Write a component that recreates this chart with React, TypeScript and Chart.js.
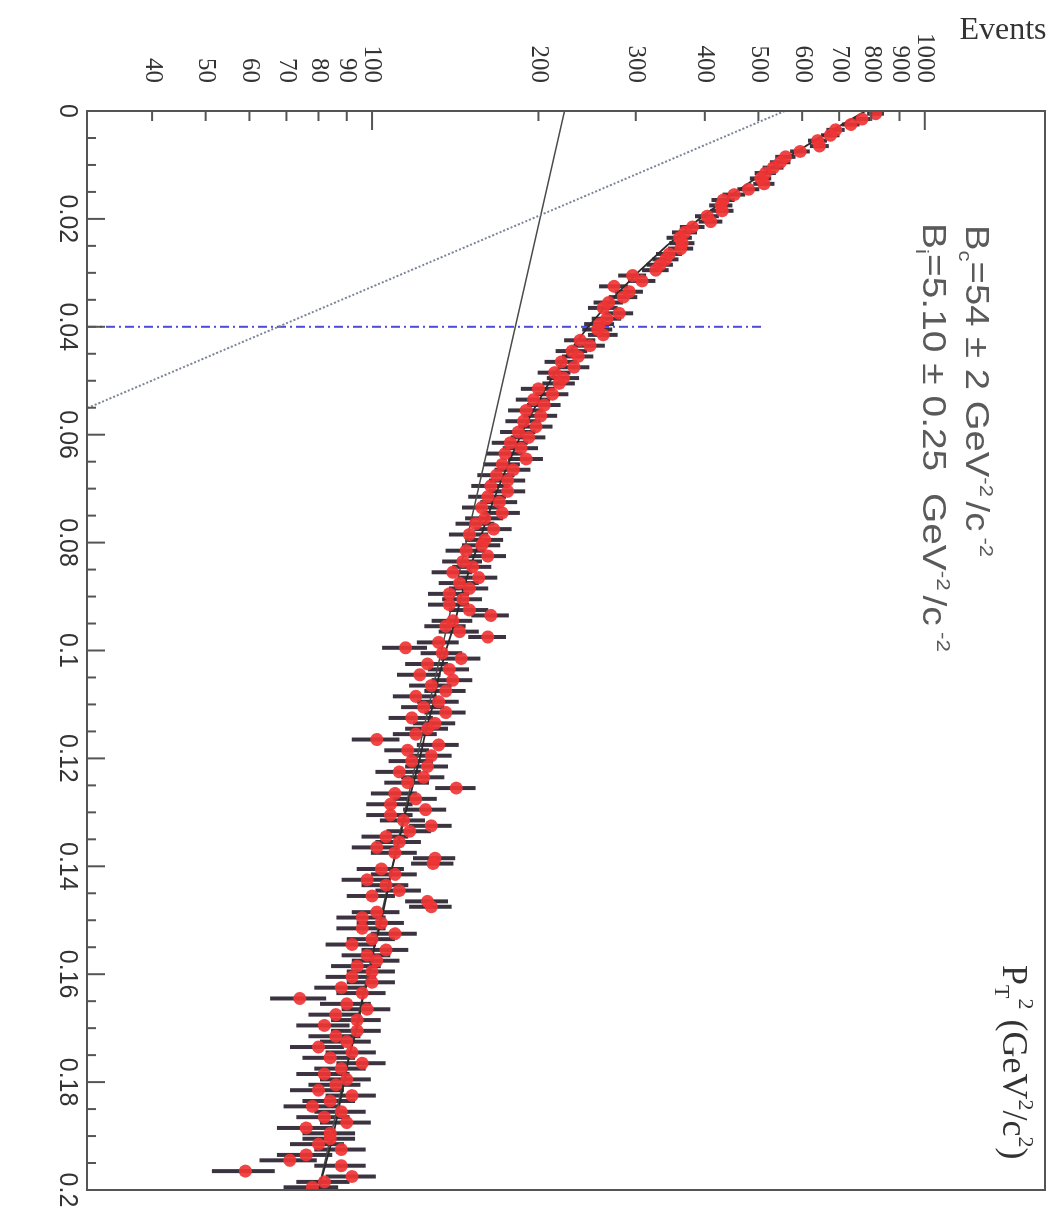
import React, { useEffect, useRef } from "react";
import { Chart, registerables } from "chart.js";

Chart.register(...registerables);

// ---------- data ----------
const binWidth = 0.001;
const ptSq: number[] = Array.from({ length: 200 }, (_, i) => (i + 0.5) * binWidth);

const events: number[] = [
  815, 770, 735, 690, 675, 640, 645, 595, 560, 548,
  532, 515, 505, 512, 480, 452, 432, 428, 430, 404,
  410, 380, 368, 360, 364, 362, 345, 340, 332, 326,
  296, 308, 274, 292, 285, 268, 262, 280, 266, 258,
  256, 262, 238, 248, 230, 236, 220, 232, 214, 222,
  218, 200, 212, 196, 205, 190, 202, 188, 198, 184,
  192, 178, 186, 174, 190, 172, 180, 168, 176, 164,
  176, 162, 170, 158, 172, 160, 154, 166, 150, 160,
  158, 148, 162, 146, 152, 140, 156, 144, 150, 138,
  146, 138, 150, 164, 140, 136, 144, 162, 132, 115,
  134, 145, 126, 138, 122, 140, 128, 136, 120, 132,
  124, 136, 118, 130, 126, 120, 102, 132, 116, 128,
  118, 126, 112, 124, 116, 142, 110, 120, 108, 125,
  108, 114, 128, 117, 106, 112, 102, 110, 130, 129,
  104, 110, 98, 106, 112, 100, 126, 128, 102, 96,
  104, 96, 110, 100, 92, 106, 98, 102, 94, 100,
  92, 100, 88, 96, 74, 90, 98, 86, 94, 82,
  94, 86, 90, 80, 92, 84, 96, 88, 82, 90,
  86, 80, 92, 84, 78, 88, 82, 90, 76, 84,
  84, 80, 88, 76, 71, 88, 59, 92, 82, 78,
];

// total fit curve
const fitPt: number[] = [
  0, 0.005, 0.01, 0.015, 0.02, 0.025, 0.03, 0.035, 0.04, 0.045,
  0.05, 0.055, 0.06, 0.065, 0.07, 0.075, 0.08, 0.085, 0.09, 0.095,
  0.1, 0.105, 0.11, 0.115, 0.12, 0.125, 0.13, 0.135, 0.14, 0.145,
  0.15, 0.155, 0.16, 0.165, 0.17, 0.175, 0.18, 0.185, 0.19, 0.195, 0.2,
];
const fitEvents: number[] = [
  781, 643, 537, 455, 391, 341, 302, 271, 246, 226,
  210, 197, 186, 177, 169, 162, 156, 150, 145, 141,
  136, 132, 129, 125, 122, 118.5, 115, 112, 109, 106.5,
  104, 101, 99, 96, 94, 91, 89, 87, 85, 82.5, 80,
];

// coherent (steep) component: straight line on log scale
const steepPt: number[] = [0, 0.0551];
const steepEvents: number[] = [558, 30.5];
// incoherent (shallow) component
const shallowPt: number[] = [0, 0.2];
const shallowEvents: number[] = [223, 80];
// vertical cut line (dash-dot blue)
const cutPt: number[] = [0.04, 0.04];
const cutEvents: number[] = [30.5, 510];

const eventTicks: number[] = [40, 50, 60, 70, 80, 90, 100, 200, 300, 400, 500, 600, 700, 800, 900, 1000];
const ptTicks: number[] = [0, 0.02, 0.04, 0.06, 0.08, 0.1, 0.12, 0.14, 0.16, 0.18, 0.2];
const ptTickLabels: string[] = ["0", "0.02", "0.04", "0.06", "0.08", "0.1", "0.12", "0.14", "0.16", "0.18", "0.2"];

const EV_MIN = 30.5;
const EV_MAX = 1650;

type Part = { t: string; font: string; dy?: number; gap?: number };

function drawRich(ctx: CanvasRenderingContext2D, parts: Part[], x: number, y: number, sx: number) {
  ctx.save();
  ctx.translate(x, y);
  ctx.scale(sx, 1);
  ctx.textBaseline = "alphabetic";
  ctx.textAlign = "left";
  let cx = 0;
  for (const p of parts) {
    ctx.font = p.font;
    ctx.fillText(p.t, cx, p.dy || 0);
    cx += ctx.measureText(p.t).width + (p.gap || 0);
  }
  ctx.restore();
}

const decorPlugin = {
  id: "decor",
  beforeDatasetsDraw(chart: any) {
    const { ctx, chartArea: a, scales } = chart;
    const xs = scales.x;
    const ys = scales.y;
    ctx.save();
    ctx.beginPath();
    ctx.rect(a.left, a.top, a.right - a.left, a.bottom - a.top);
    ctx.clip();
    ctx.strokeStyle = "#3b3340";
    ctx.lineWidth = 4;
    for (let i = 0; i < events.length; i++) {
      const px = xs.getPixelForValue(ptSq[i]);
      const e = Math.sqrt(events[i]);
      ctx.beginPath();
      ctx.moveTo(px, ys.getPixelForValue(events[i] - e));
      ctx.lineTo(px, ys.getPixelForValue(events[i] + e));
      ctx.stroke();
    }
    ctx.restore();
  },
  afterDraw(chart: any) {
    const { ctx, chartArea: a, scales } = chart;
    const xs = scales.x;
    const ys = scales.y;
    ctx.save();
    // frame
    ctx.strokeStyle = "#555";
    ctx.lineWidth = 2;
    ctx.strokeRect(a.left, a.top, a.right - a.left, a.bottom - a.top);
    // inward ticks on PT^2 axis
    for (let k = 0; k <= 40; k++) {
      const v = k * 0.005;
      const px = xs.getPixelForValue(v);
      const len = k % 4 === 0 ? 18 : 9;
      ctx.beginPath();
      ctx.moveTo(px, a.bottom);
      ctx.lineTo(px, a.bottom - len);
      ctx.stroke();
    }
    // inward ticks on Events axis
    for (const v of eventTicks) {
      const py = ys.getPixelForValue(v);
      const len = v === 100 || v === 1000 ? 19 : 10;
      ctx.beginPath();
      ctx.moveTo(a.left, py);
      ctx.lineTo(a.left + len, py);
      ctx.stroke();
    }
    ctx.restore();

    // annotation texts
    ctx.save();
    ctx.fillStyle = "#5a5a5a";
    const big = '33px "Liberation Sans"';
    const small = '19px "Liberation Sans"';
    drawRich(
      ctx,
      [
        { t: "B", font: big },
        { t: "c", font: small, dy: 7 },
        { t: "=54 ± 2 GeV", font: big },
        { t: "-2", font: small, dy: -14, gap: 4 },
        { t: "/c", font: big },
        { t: " -2", font: small, dy: -14 },
      ],
      225,
      89,
      1.16
    );
    drawRich(
      ctx,
      [
        { t: "B", font: big },
        { t: "i", font: small, dy: 7 },
        { t: "=5.10 ± 0.25  GeV", font: big },
        { t: "-2", font: small, dy: -14, gap: 4 },
        { t: "/c", font: big },
        { t: " -2", font: small, dy: -14 },
      ],
      223,
      132,
      1.18
    );
    ctx.restore();

    // axis titles
    ctx.save();
    ctx.fillStyle = "#333";
    const sbig = '36px "Liberation Serif"';
    const ssmall = '22px "Liberation Serif"';
    drawRich(
      ctx,
      [
        { t: "P", font: sbig },
        { t: "T", font: ssmall, dy: 8 },
        { t: "2", font: ssmall, dy: -16, gap: 10 },
        { t: "(GeV", font: sbig },
        { t: "2", font: ssmall, dy: -16 },
        { t: "/c", font: sbig },
        { t: "2", font: ssmall, dy: -16 },
        { t: ")", font: sbig },
      ],
      965,
      52,
      1.0
    );
    // "Events" (horizontal in the final picture)
    ctx.translate(31, 52);
    ctx.rotate(-Math.PI / 2);
    ctx.font = '32px "Liberation Serif"';
    ctx.textAlign = "center";
    ctx.textBaseline = "middle";
    ctx.fillText("Events", 0, 0);
    ctx.restore();
  },
};

export default function App() {
  const ref = useRef<HTMLCanvasElement>(null);
  useEffect(() => {
    const pts = ptSq.map((p, i) => ({ x: p, y: events[i] }));
    const chart = new Chart(ref.current as HTMLCanvasElement, {
      type: "scatter",
      data: {
        datasets: [
          {
            label: "data",
            data: pts,
            showLine: false,
            pointRadius: 6.5,
            pointBackgroundColor: "rgba(240,52,52,0.92)",
            pointBorderWidth: 0,
            order: 0,
          },
          {
            label: "fit",
            data: fitPt.map((p, i) => ({ x: p, y: fitEvents[i] })),
            showLine: true,
            pointRadius: 0,
            borderColor: "#2a2a2a",
            borderWidth: 1.8,
            tension: 0,
            order: 1,
          },
          {
            label: "coherent",
            data: steepPt.map((p, i) => ({ x: p, y: steepEvents[i] })),
            showLine: true,
            pointRadius: 0,
            borderColor: "#7c8598",
            borderWidth: 2,
            borderDash: [2, 2],
            order: 2,
          },
          {
            label: "incoherent",
            data: shallowPt.map((p, i) => ({ x: p, y: shallowEvents[i] })),
            showLine: true,
            pointRadius: 0,
            borderColor: "#4a4a4a",
            borderWidth: 1.4,
            order: 3,
          },
          {
            label: "cut",
            data: cutPt.map((p, i) => ({ x: p, y: cutEvents[i] })),
            showLine: true,
            pointRadius: 0,
            borderColor: "#4b4bd8",
            borderWidth: 2,
            borderDash: [9, 4, 2, 4],
            order: 4,
          },
        ],
      },
      options: {
        responsive: false,
        animation: false,
        devicePixelRatio: 1,
        layout: { padding: { top: 10, right: 21, bottom: 0, left: 0 } },
        plugins: { legend: { display: false }, tooltip: { enabled: false } },
        scales: {
          x: {
            type: "linear",
            position: "bottom",
            min: 0,
            max: 0.2,
            grid: { display: false, drawTicks: false },
            border: { display: false },
            afterBuildTicks: (s: any) => {
              s.ticks = ptTicks.map((v) => ({ value: v }));
            },
            afterFit: (s: any) => {
              s.height = 87;
              s.paddingLeft = 0;
              s.paddingRight = 0;
            },
            ticks: {
              autoSkip: false,
              maxRotation: 0,
              minRotation: 0,
              padding: 5,
              color: "#333",
              font: { family: "Liberation Sans", size: 25 },
              callback: (_v: any, i: number) => ptTickLabels[i],
            },
          },
          y: {
            type: "logarithmic",
            position: "left",
            min: EV_MIN,
            max: EV_MAX,
            grid: { display: false, drawTicks: false },
            border: { display: false },
            afterBuildTicks: (s: any) => {
              s.ticks = eventTicks.map((v) => ({ value: v }));
            },
            afterFit: (s: any) => {
              s.width = 111;
              s.paddingTop = 0;
              s.paddingBottom = 0;
            },
            ticks: {
              autoSkip: false,
              padding: 28,
              color: "#333",
              font: { family: "Liberation Serif", size: 25 },
              callback: (v: any) => String(v),
            },
          },
        },
      },
      plugins: [decorPlugin],
    } as any);
    return () => chart.destroy();
  }, []);

  return (
    <div
      style={{
        position: "fixed",
        left: 0,
        top: 0,
        width: 1211,
        height: 1055,
        background: "#fff",
        transformOrigin: "0 0",
        transform: "translate(1055px, 0) rotate(90deg)",
      }}
    >
      <canvas ref={ref} width={1211} height={1055} style={{ display: "block", width: 1211, height: 1055 }} />
    </div>
  );
}
